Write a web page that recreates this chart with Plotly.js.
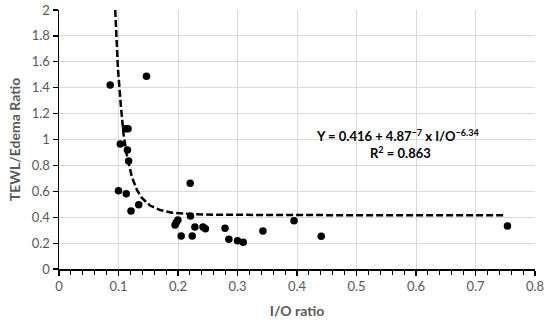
<!DOCTYPE html>
<html>
<head>
<meta charset="utf-8">
<script src="https://cdn.plot.ly/plotly-3.0.1.min.js"></script>
<style>html,body{margin:0;padding:0;background:#fff;}#chart{width:550px;height:322px;}</style>
</head>
<body>
<div id="chart"></div>
<script>
// Observed data (I/O ratio vs TEWL/Edema ratio)
const ioRatio = [0.086, 0.147, 0.112, 0.116, 0.103, 0.115, 0.117, 0.100, 0.113, 0.121, 0.134,
  0.2205, 0.221, 0.1998, 0.197, 0.195, 0.2054, 0.2239, 0.2284, 0.242, 0.246, 0.279, 0.2855,
  0.300, 0.3096, 0.3427, 0.395, 0.4407, 0.7537];
const tewlEdema = [1.42, 1.488, 1.083, 1.083, 0.965, 0.919, 0.834, 0.605, 0.581, 0.448, 0.497,
  0.662, 0.409, 0.378, 0.36, 0.34, 0.255, 0.255, 0.324, 0.324, 0.311, 0.314, 0.229,
  0.219, 0.206, 0.293, 0.373, 0.252, 0.332];

// Trend line points
const trendX = [0.0945, 0.0961, 0.099, 0.104, 0.1085, 0.114, 0.1225, 0.131, 0.139, 0.153, 0.17, 0.19, 0.22, 0.26, 0.33, 0.45, 0.6, 0.747];
const trendY = [2.0, 1.80, 1.55, 1.26, 1.04, 0.88, 0.71, 0.61, 0.55, 0.49, 0.455, 0.435, 0.424, 0.419, 0.417, 0.416, 0.416, 0.416];

const xTicks = [0, 0.1, 0.2, 0.3, 0.4, 0.5, 0.6, 0.7, 0.8];
const yTicks = [0, 0.2, 0.4, 0.6, 0.8, 1, 1.2, 1.4, 1.6, 1.8, 2];

const eqText = 'Y = 0.416 + 4.87<sup>\u22127</sup> x I/O<sup>\u22126.34</sup>';
const r2Text = 'R<sup>2</sup> = 0.863';

const FONT = 'Lato, "Open Sans", sans-serif';

const traces = [
  {x: trendX, y: trendY, mode: 'lines', type: 'scatter', line: {color: '#000', width: 2.5, dash: '7px,3px'}, hoverinfo: 'skip', cliponaxis: true},
  {x: ioRatio, y: tewlEdema, mode: 'markers', type: 'scatter', marker: {color: '#000', size: 7.5}, cliponaxis: false}
];

const layout = {
  width: 550, height: 322,
  margin: {l: 59, r: 15, t: 10, b: 53},
  paper_bgcolor: '#fff', plot_bgcolor: '#fff',
  showlegend: false,
  font: {family: FONT, color: '#595959', size: 13},
  xaxis: {
    range: [0, 0.8], tickvals: xTicks, ticktext: xTicks.map(String),
    showgrid: true, gridcolor: '#d9d9d9', gridwidth: 1,
    showline: true, linecolor: '#000', linewidth: 1.5,
    ticks: 'outside', ticklen: 5, tickcolor: '#000', tickwidth: 1.2,
    minor: {dtick: 0.02, ticks: 'outside', ticklen: 4, tickcolor: '#000', tickwidth: 1, showgrid: false},
    zeroline: false,
    tickfont: {size: 13, color: '#595959'},
    title: {text: '<b>I/O ratio</b>', font: {size: 14, color: '#595959'}, standoff: 13}
  },
  yaxis: {
    range: [0, 2], tickvals: yTicks, ticktext: yTicks.map(String),
    showgrid: true, gridcolor: '#d9d9d9', gridwidth: 1,
    showline: true, linecolor: '#000', linewidth: 1.5,
    ticks: 'outside', ticklen: 5, tickcolor: '#000', tickwidth: 1.2,
    zeroline: false,
    tickfont: {size: 13, color: '#595959'},
    title: {text: '<b>TEWL/Edema Ratio</b>', font: {size: 14, color: '#595959'}, standoff: 8}
  },
  annotations: [
    {x: 0.5695, y: 1.03, xref: 'x', yref: 'y', text: '<b>' + eqText + '</b>', showarrow: false, font: {family: FONT, size: 13, color: '#000'}, xanchor: 'center', yanchor: 'middle'},
    {x: 0.5735, y: 0.90, xref: 'x', yref: 'y', text: '<b>' + r2Text + '</b>', showarrow: false, font: {family: FONT, size: 13, color: '#000'}, xanchor: 'center', yanchor: 'middle'}
  ]
};

Plotly.newPlot('chart', traces, layout, {staticPlot: true, displayModeBar: false});
</script>
</body>
</html>
